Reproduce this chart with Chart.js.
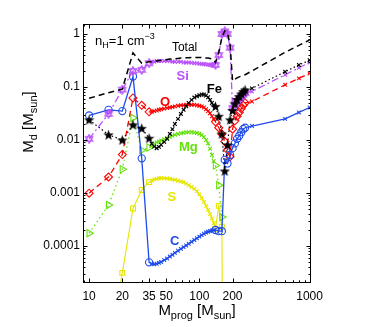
<!DOCTYPE html>
<html><head><meta charset="utf-8">
<script src="https://cdn.jsdelivr.net/npm/chart.js@4.4.0/dist/chart.umd.min.js"></script>
<style>html,body{margin:0;padding:0;background:#fff;}canvas{display:block}</style>
</head><body>
<canvas id="c" width="382" height="327" style="width:382px;height:327px"></canvas>
<script>
// ---------------- data (progenitor masses, Msun) ----------------
const ccMass   = [10, 15, 20, 25, 30, 35];
const pop3Mass = [37,39,41,43,45,48,51,54,57,60,64,68,72,76,80,85,90,95,100,105,110,115,120,125,130,135];
const pisnMass = [140,150,160,170,180,190,200,210,220,230,240,250,260];
const vmsMass  = [300,600,800,1000];

const xTicks = [10,20,35,50,100,200,1000];
const yTicks = [1e-4,1e-3,1e-2,1e-1,1];
const yTickLabels = ['0.0001','0.001','0.01','0.1','1'];

// dust mass M_d (Msun) per grain species
const C_cc   = [0.029,0.037,0.035,0.157,0.0045,4.9e-5];
const C_pop3 = [4.6e-5,4.5e-5,4.6e-5,4.8e-5,5.0e-5,5.4e-5,5.8e-5,6.3e-5,6.8e-5,7.4e-5,8.1e-5,8.8e-5,9.5e-5,1.02e-4,1.1e-4,1.2e-4,1.3e-4,1.4e-4,1.5e-4,1.6e-4,1.7e-4,1.8e-4,1.86e-4,1.92e-4,1.96e-4,2.0e-4];
const C_pisn = [2.0e-4,1.9e-4,1.9e-4,0.0042,0.0036,0.0052,0.0070,0.0086,0.0105,0.012,0.014,0.016,0.017];
const C_vms  = [0.0183,0.025,0.033,0.041];

const O_cc   = [0.00099,0.0020,0.0053,0.062,0.045,0.034];
const O_pop3 = [0.034,0.035,0.036,0.037,0.038,0.039,0.040,0.041,0.042,0.043,0.044,0.045,0.045,0.046,0.046,0.046,0.046,0.045,0.044,0.043,0.041,0.038,0.035,0.032,0.028,0.025];
const O_pisn = [0.022,0.017,0.013,0.0093,0.0065,0.0048,0.016,0.023,0.028,0.033,0.039,0.045,0.050];
const O_vms  = [0.053,0.11,0.145,0.18];

const Si_cc   = [0.0105,0.031,0.089,0.20,0.21,0.28];
const Si_pop3 = [0.30,0.30,0.31,0.31,0.31,0.31,0.31,0.31,0.30,0.30,0.30,0.30,0.29,0.29,0.29,0.285,0.28,0.28,0.275,0.27,0.27,0.265,0.265,0.26,0.26,0.26];
const Si_pisn = [0.26,0.40,1.0,1.12,1.0,0.55,0.040,0.047,0.054,0.060,0.066,0.072,0.077];
const Si_vms  = [0.082,0.17,0.23,0.29];

const Fe_cc   = [0.024,0.0125,0.010,0.0193,0.0166,0.0108];
const Fe_pop3 = [0.0085,0.0075,0.0070,0.0074,0.0081,0.0092,0.0105,0.013,0.016,0.020,0.025,0.031,0.037,0.043,0.050,0.057,0.063,0.067,0.070,0.072,0.072,0.069,0.064,0.057,0.050,0.045];
const Fe_pisn = [0.043,0.028,0.013,0.0026,0.0081,0.024,0.036,0.048,0.058,0.066,0.074,0.082,0.088];
const Fe_vms  = [0.094,0.194,0.26,0.32];

const Mg_cc   = [1.74e-4,5.9e-4,0.0028,0.026,0.0064,0.0072];
const Mg_pop3 = [0.0078,0.0085,0.0090,0.0094,0.0098,0.0103,0.0108,0.0114,0.0120,0.0125,0.0130,0.0134,0.0137,0.0139,0.0140,0.0140,0.0138,0.0135,0.0131,0.0124,0.0114,0.0100,0.0086,0.0068,0.0052,0.0040];
const Mg_pisn = [0.0033,0.0014,3.5e-4,null,null,null,null,null,null,null,null,null,null];
const Mg_vms  = [null,null,null,null];

const S_cc   = [null,1e-6,3.1e-5,5.1e-4,0.00114,0.0016];
const S_pop3 = [0.0017,0.0018,0.00185,0.0019,0.0019,0.0019,0.00188,0.00185,0.0018,0.00177,0.0017,0.00165,0.0016,0.0015,0.0014,0.0013,0.0012,0.00108,0.00094,0.0008,0.00068,0.00057,0.00048,0.0004,0.00033,0.00027];
const S_pisn = [2.1e-4,5.7e-4,2.3e-4,1e-12,null,null,null,null,null,null,null,null,null];
const S_vms  = [null,null,null,null];

const Tot_cc   = [0.061,0.078,0.091,0.44,0.28,0.30];
const Tot_pop3 = [0.30,0.31,0.31,0.315,0.32,0.325,0.33,0.335,0.34,0.34,0.345,0.35,0.35,0.355,0.355,0.36,0.36,0.36,0.36,0.36,0.355,0.35,0.35,0.345,0.34,0.32];
const Tot_pisn = [0.29,0.45,0.85,1.15,1.05,0.62,0.13,0.14,0.148,0.155,0.16,0.165,0.17];
const Tot_vms  = [0.20,0.45,0.61,0.77];

// ---------------- styling ----------------
const FONT = '"Liberation Sans", Arial, Helvetica, sans-serif';
const COL_C='rgb(30,75,235)', COL_O='rgb(255,0,0)', COL_SI='rgb(185,80,250)',
      COL_MG='rgb(100,225,10)', COL_S='rgb(230,230,0)', COL_FE='#000';

function makeHexagram(color, size, lw){
  const c=document.createElement('canvas'); c.width=c.height=size;
  const g=c.getContext('2d'); const cx=size/2, cy=size/2, r=size/2-lw*0.6;
  g.strokeStyle=color; g.lineWidth=lw;
  [-Math.PI/2, Math.PI/2].forEach(rot=>{
    g.beginPath();
    for(let k=0;k<3;k++){const a=rot+k*2*Math.PI/3; const px=cx+r*Math.cos(a), py=cy+r*Math.sin(a); if(k) g.lineTo(px,py); else g.moveTo(px,py);}
    g.closePath(); g.stroke();
  });
  return c;
}
function makePentagram(color, size){
  const c=document.createElement('canvas'); c.width=c.height=size;
  const g=c.getContext('2d'); const cx=size/2, cy=size/2+0.5, r=size/2;
  g.fillStyle=color; g.beginPath();
  for(let k=0;k<10;k++){const a=-Math.PI/2+k*Math.PI/5; const rr=(k%2)?r*0.42:r; const px=cx+rr*Math.cos(a), py=cy+rr*Math.sin(a); if(k) g.lineTo(px,py); else g.moveTo(px,py);}
  g.closePath(); g.fill();
  return c;
}
const HEX = makeHexagram(COL_SI, 10, 1.1);
const PENT = makePentagram('#000', 11);

// group index: 0 = cc (marker), 1 = pop3 (x), 2 = pisn (marker), 3 = vms (x)
function build(cc, pop, pisn, vms){
  const pts=[];
  [[ccMass,cc],[pop3Mass,pop],[pisnMass,pisn],[vmsMass,vms]].forEach(([ms,vs],gi)=>{
    ms.forEach((m,i)=>pts.push({x:m, y:vs[i], g:gi}));
  });
  return pts;
}
function ds(label, pts, color, dash, lw, shape, shapeR, rot){
  return {
    label, data: pts, showLine:true, fill:false, tension:0,
    borderColor: color, borderWidth: lw, borderDash: dash,
    pointStyle: pts.map(p => (p.g===0||p.g===2) ? shape : 'crossRot'),
    pointRadius: pts.map(p => (p.g===0||p.g===2) ? shapeR : 2.6),
    pointRotation: pts.map(p => (p.g===0||p.g===2) ? (rot||0) : 0),
    pointBorderColor: color, pointBackgroundColor: 'rgba(0,0,0,0)',
    pointBorderWidth: 1.1, pointHoverRadius: 0
  };
}

const datasets = [
  ds('Fe', build(Fe_cc,Fe_pop3,Fe_pisn,Fe_vms), COL_FE, [1.5,2.5], 1.2, PENT, 5),
  Object.assign(ds('Total', build(Tot_cc,Tot_pop3,Tot_pisn,Tot_vms), '#000', [6,4], 1.5, 'circle', 0), {pointRadius:0}),
  ds('Si', build(Si_cc,Si_pop3,Si_pisn,Si_vms), COL_SI, [7,3,2,3], 1.3, HEX, 5),
  ds('C',  build(C_cc,C_pop3,C_pisn,C_vms), COL_C, [], 1.3, 'circle', 3.6),
  ds('O',  build(O_cc,O_pop3,O_pisn,O_vms), COL_O, [6,4], 1.3, 'rectRot', 4),
  ds('Mg', build(Mg_cc,Mg_pop3,Mg_pisn,Mg_vms), COL_MG, [1.5,3], 1.3, 'triangle', 4.2, 90),
  ds('S',  build(S_cc,S_pop3,S_pisn,S_vms), COL_S, [], 1.1, 'rect', 3.4)
];

// text annotations anchored in data coordinates (left, baseline)
const labels = [
  {parts:[['Total',12,0]], m:56.4, v:0.48, color:'#000', weight:'normal'},
  {parts:[['Si',13,0]], m:62, v:0.135, color:COL_SI, weight:'bold'},
  {parts:[['Fe',13,0]], m:117, v:0.077, color:'#000', weight:'bold'},
  {parts:[['O',13,0]], m:43.9, v:0.043, color:COL_O, weight:'bold'},
  {parts:[['Mg',13,0]], m:65.3, v:0.0062, color:COL_MG, weight:'bold'},
  {parts:[['S',13,0]], m:51.3, v:7.2e-4, color:COL_S, weight:'bold'},
  {parts:[['C',13,0]], m:54.1, v:1.05e-4, color:COL_C, weight:'bold'},
  {parts:[['n',13,0],['H',9,3],['=1 cm',13,0],['\u22123',9,-6]], m:11.33, v:0.62, color:'#000', weight:'normal'}
];

function drawParts(g, parts, x, y, weight){
  let cx=x;
  parts.forEach(([t,s,dy])=>{ g.font=weight+' '+s+'px '+FONT; g.fillText(t,cx,y+dy); cx+=g.measureText(t).width; });
  return cx-x;
}
function partsWidth(g, parts, weight){
  let w=0; parts.forEach(([t,s])=>{ g.font=weight+' '+s+'px '+FONT; w+=g.measureText(t).width; }); return w;
}

const framePlugin = {
  id:'frame',
  afterDraw(chart){
    const g=chart.ctx, a=chart.chartArea, xs=chart.scales.x, ys=chart.scales.y;
    g.save();
    // box
    g.strokeStyle='#000'; g.lineWidth=1;
    g.strokeRect(Math.round(a.left)+0.5, Math.round(a.top)+0.5, Math.round(a.right-a.left)-1, Math.round(a.bottom-a.top)-1);
    // ticks (inward, all sides)
    g.beginPath();
    const xMaj=xTicks, xMin=[];
    [1,10,100].forEach(d=>{for(let k=2;k<=9;k++){const v=d*k*(d===1?1:1); if(v*1>=9&&v<=1000) xMin.push(v);}});
    for(let d=10; d<=100; d*=10) for(let k=2;k<=9;k++) xMin.push(d*k);
    const drawX=(v,len)=>{const px=Math.round(xs.getPixelForValue(v))+0.5; if(px<a.left||px>a.right) return;
      g.moveTo(px,a.bottom); g.lineTo(px,a.bottom-len); g.moveTo(px,a.top); g.lineTo(px,a.top+len);};
    xMin.forEach(v=>drawX(v,2.5)); xMaj.forEach(v=>drawX(v,4.5));
    const drawY=(v,len)=>{const py=Math.round(ys.getPixelForValue(v))+0.5; if(py<a.top||py>a.bottom) return;
      g.moveTo(a.left,py); g.lineTo(a.left+len,py); g.moveTo(a.right,py); g.lineTo(a.right-len,py);};
    for(let d=1e-5; d<=1; d*=10) for(let k=2;k<=9;k++) drawY(d*k,2.5);
    yTicks.forEach(v=>drawY(v,4.5));
    g.stroke();
    // annotations
    labels.forEach(L=>{ g.fillStyle=L.color; g.textBaseline='alphabetic'; g.textAlign='left';
      drawParts(g, L.parts, xs.getPixelForValue(L.m), ys.getPixelForValue(L.v), L.weight); });
    // axis titles
    g.fillStyle='#000'; g.textBaseline='alphabetic'; g.textAlign='left';
    const xt=[['M',15,0],['prog',11,4],[' [M',15,0],['sun',11,4],[']',15,0]];
    const wx=partsWidth(g,xt,'normal');
    drawParts(g, xt, 197-wx/2, 315, 'normal');
    const yt=[['M',15,0],['d',11,4],[' [M',15,0],['sun',11,4],[']',15,0]];
    const wy=partsWidth(g,yt,'normal');
    g.translate(33,122); g.rotate(-Math.PI/2);
    drawParts(g, yt, -wy/2, 0, 'normal');
    g.restore();
  }
};

new Chart(document.getElementById('c'), {
  type:'scatter',
  data:{datasets},
  options:{
    responsive:false, animation:false, devicePixelRatio:1,
    layout:{padding:{left:0,right:71,top:24,bottom:0}},
    plugins:{legend:{display:false}, tooltip:{enabled:false}},
    scales:{
      x:{type:'logarithmic', min:8.8, max:1030,
         grid:{display:false, drawTicks:false}, border:{display:false},
         afterBuildTicks:s=>{s.ticks=xTicks.map(v=>({value:v}));},
         afterFit:s=>{s.height=44;},
         ticks:{autoSkip:false, maxRotation:0, padding:6, color:'#000', font:{family:FONT,size:12},
                callback:v=>String(v)}},
      y:{type:'logarithmic', min:2e-5, max:1.54,
         grid:{display:false, drawTicks:false}, border:{display:false},
         afterBuildTicks:s=>{s.ticks=yTicks.map(v=>({value:v}));},
         afterFit:s=>{s.width=83;},
         ticks:{autoSkip:false, padding:3, color:'#000', font:{family:FONT,size:12},
                callback:v=>{const i=yTicks.findIndex(t=>Math.abs(t-v)/t<1e-6); return i>=0?yTickLabels[i]:'';}}}
    }
  },
  plugins:[framePlugin]
});
</script>
</body></html>
